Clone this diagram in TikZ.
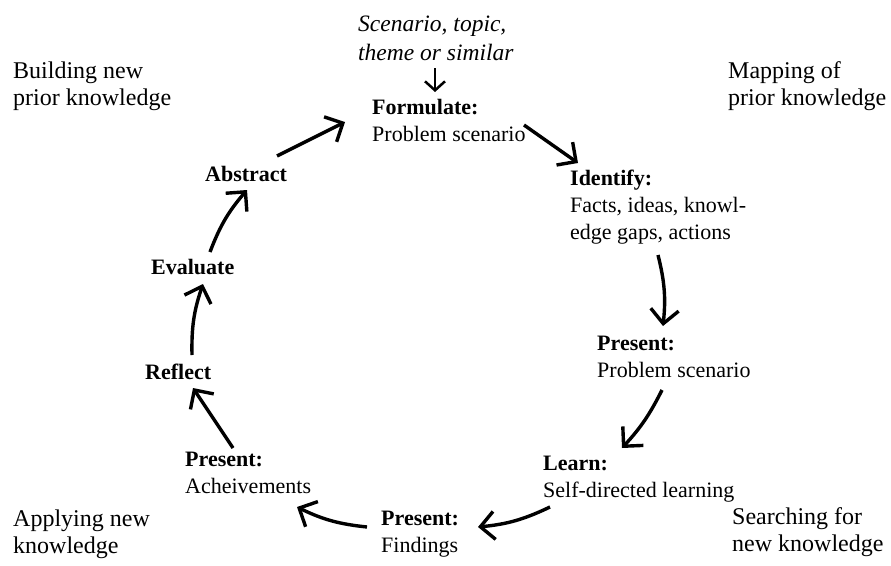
\documentclass[tikz,border=0pt]{standalone}
\usepackage{fontspec}
\setmainfont{Liberation Serif}
\usetikzlibrary{arrows.meta}

\begin{document}
\begin{tikzpicture}[
		x=1pt, y=-1pt,
		every node/.style={font=\fontsize{22}{27}\selectfont, inner sep=0pt},
		stepnode/.style={align=left, anchor=base west},
		phasenode/.style={align=left, anchor=base west, font=\fontsize{24}{27}\selectfont},
		cyclearrow/.style={line width=3.4pt, -{Straight Barb[length=14pt, width=28pt, line width=3.4pt]}},
		startarrow/.style={line width=2.5pt, -{Straight Barb[length=9pt, width=20pt, line width=2.5pt]}}
		]
		\useasboundingbox (0,0) rectangle (891,565);
		% the four phases in the corners
		\node[phasenode] (building) at (13,105) {Building new\\prior knowledge};
		\node[phasenode] (mapping) at (728,105) {Mapping of\\prior knowledge};
		\node[phasenode] (applying) at (13,553) {Applying new\\knowledge};
		\node[phasenode] (searching) at (732,551) {Searching for\\new knowledge};
		% the steps of the cycle
		\node[stepnode, font=\fontsize{23.5}{29}\selectfont\itshape] (scenario) at (358,60) {Scenario, topic,\\theme or similar};
		\node[stepnode] (formulate) at (372,141) {\textbf{Formulate:}\\Problem scenario};
		\node[stepnode] (identify) at (570,239) {\textbf{Identify:}\\Facts, ideas, knowl-\\edge gaps, actions};
		\node[stepnode] (presentps) at (597,377) {\textbf{Present:}\\Problem scenario};
		\node[stepnode] (learn) at (543,497) {\textbf{Learn:}\\Self-directed learning};
		\node[stepnode] (presentfind) at (381,552) {\textbf{Present:}\\Findings};
		\node[stepnode] (presentach) at (185,493) {\textbf{Present:}\\Acheivements};
		\node[stepnode] (reflect) at (145,379) {\textbf{Reflect}};
		\node[stepnode] (evaluate) at (151,274) {\textbf{Evaluate}};
		\node[stepnode] (abstract) at (205,181) {\textbf{Abstract}};
		% arrows round the cycle
		\draw[startarrow] ([shift={(77,8)}]scenario.base west) -- ([shift={(63,-49)}]formulate.base west);
		\draw[cyclearrow] ([shift={(152,-16)}]formulate.base west) -- ([shift={(8,-76)}]identify.base west);
		\draw[cyclearrow] ([shift={(88,16)}]identify.base west) to[bend left=10] ([shift={(66,-51)}]presentps.base west);
		\draw[cyclearrow] ([shift={(65,13)}]presentps.base west) to[bend left=8] ([shift={(79,-49)}]learn.base west);
		\draw[cyclearrow] ([shift={(7,10)}]learn.base west) to[bend left=10] ([shift={(97,-25)}]presentfind.base west);
		\draw[cyclearrow] ([shift={(-14,-25)}]presentfind.base west) to[bend left=10] ([shift={(112,14)}]presentach.base west);
		\draw[cyclearrow] ([shift={(48,-45)}]presentach.base west) -- ([shift={(48,9)}]reflect.base west);
		\draw[cyclearrow] ([shift={(47,-24)}]reflect.base west) to[bend left=10] ([shift={(52,10)}]evaluate.base west);
		\draw[cyclearrow] ([shift={(59,-22)}]evaluate.base west) to[bend left=10] ([shift={(42,9)}]abstract.base west);
		\draw[cyclearrow] ([shift={(72,-25)}]abstract.base west) -- ([shift={(-27,-19)}]formulate.base west);
	\end{tikzpicture}
\end{document}
